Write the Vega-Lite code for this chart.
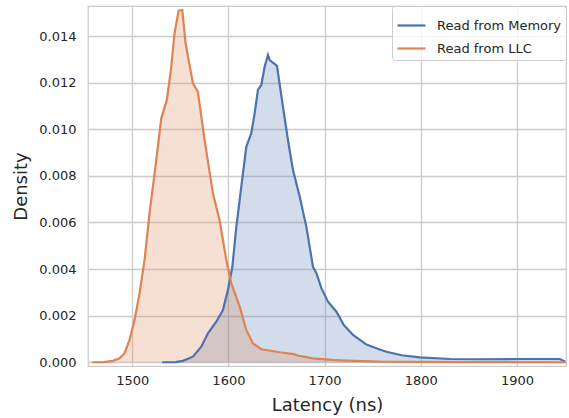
{
  "$schema": "https://vega.github.io/schema/vega-lite/v6.json",
  "width": 478,
  "height": 360,
  "autosize": {"type": "none"},
  "padding": {"left": 88, "top": 6, "right": 3, "bottom": 52},
  "background": "white",
  "config": {
    "font": "DejaVu Sans",
    "view": {"stroke": "#cccccc", "strokeWidth": 1.25},
    "axis": {
      "domain": false,
      "ticks": false,
      "gridColor": "#cccccc",
      "gridWidth": 1.3,
      "labelColor": "#262626",
      "labelFont": "DejaVu Sans",
      "labelFontSize": 13,
      "titleColor": "#262626",
      "titleFont": "DejaVu Sans",
      "titleFontSize": 18,
      "titleFontWeight": "normal"
    },
    "legend": {
      "labelFont": "DejaVu Sans",
      "labelFontSize": 13,
      "labelColor": "#262626"
    }
  },
  "data": {
    "values": [
      {"series": "Read from Memory", "latency": 1531.2, "density": 0},
      {"series": "Read from Memory", "latency": 1545, "density": 0.00001},
      {"series": "Read from Memory", "latency": 1552.7, "density": 0.00006},
      {"series": "Read from Memory", "latency": 1563.1, "density": 0.00024},
      {"series": "Read from Memory", "latency": 1571.8, "density": 0.00067},
      {"series": "Read from Memory", "latency": 1578.7, "density": 0.00124},
      {"series": "Read from Memory", "latency": 1587.4, "density": 0.00174},
      {"series": "Read from Memory", "latency": 1594.3, "density": 0.00224},
      {"series": "Read from Memory", "latency": 1599.5, "density": 0.0031},
      {"series": "Read from Memory", "latency": 1604.1, "density": 0.0041},
      {"series": "Read from Memory", "latency": 1608.2, "density": 0.0058},
      {"series": "Read from Memory", "latency": 1613.4, "density": 0.00754},
      {"series": "Read from Memory", "latency": 1618.6, "density": 0.00925},
      {"series": "Read from Memory", "latency": 1623.8, "density": 0.00983},
      {"series": "Read from Memory", "latency": 1627.3, "density": 0.01069},
      {"series": "Read from Memory", "latency": 1630.7, "density": 0.01169},
      {"series": "Read from Memory", "latency": 1634.2, "density": 0.0119},
      {"series": "Read from Memory", "latency": 1637.7, "density": 0.01269},
      {"series": "Read from Memory", "latency": 1641.1, "density": 0.01319},
      {"series": "Read from Memory", "latency": 1642.9, "density": 0.01297},
      {"series": "Read from Memory", "latency": 1650.5, "density": 0.01272},
      {"series": "Read from Memory", "latency": 1656.7, "density": 0.01097},
      {"series": "Read from Memory", "latency": 1661.9, "density": 0.00954},
      {"series": "Read from Memory", "latency": 1667.1, "density": 0.00825},
      {"series": "Read from Memory", "latency": 1674.1, "density": 0.00711},
      {"series": "Read from Memory", "latency": 1681.1, "density": 0.0058},
      {"series": "Read from Memory", "latency": 1687.9, "density": 0.0041},
      {"series": "Read from Memory", "latency": 1691.5, "density": 0.00382},
      {"series": "Read from Memory", "latency": 1696.7, "density": 0.00318},
      {"series": "Read from Memory", "latency": 1703.5, "density": 0.0026},
      {"series": "Read from Memory", "latency": 1712.3, "density": 0.00217},
      {"series": "Read from Memory", "latency": 1720, "density": 0.0016},
      {"series": "Read from Memory", "latency": 1729.6, "density": 0.00117},
      {"series": "Read from Memory", "latency": 1743.5, "density": 0.00076},
      {"series": "Read from Memory", "latency": 1757.3, "density": 0.00055},
      {"series": "Read from Memory", "latency": 1764.3, "density": 0.00045},
      {"series": "Read from Memory", "latency": 1780, "density": 0.0003},
      {"series": "Read from Memory", "latency": 1799, "density": 0.00021},
      {"series": "Read from Memory", "latency": 1830.2, "density": 0.00014},
      {"series": "Read from Memory", "latency": 1864.8, "density": 0.00013},
      {"series": "Read from Memory", "latency": 1899.6, "density": 0.00014},
      {"series": "Read from Memory", "latency": 1944.6, "density": 0.00014},
      {"series": "Read from Memory", "latency": 1950, "density": 0.00003},
      {"series": "Read from LLC", "latency": 1458.4, "density": 0},
      {"series": "Read from LLC", "latency": 1470, "density": 0.00001},
      {"series": "Read from LLC", "latency": 1479.8, "density": 0.00006},
      {"series": "Read from LLC", "latency": 1486.8, "density": 0.00017},
      {"series": "Read from LLC", "latency": 1492, "density": 0.00039},
      {"series": "Read from LLC", "latency": 1497.2, "density": 0.00096},
      {"series": "Read from LLC", "latency": 1502.4, "density": 0.00182},
      {"series": "Read from LLC", "latency": 1507.6, "density": 0.00295},
      {"series": "Read from LLC", "latency": 1512.8, "density": 0.00439},
      {"series": "Read from LLC", "latency": 1518, "density": 0.0064},
      {"series": "Read from LLC", "latency": 1525, "density": 0.00868},
      {"series": "Read from LLC", "latency": 1530.2, "density": 0.01047},
      {"series": "Read from LLC", "latency": 1536, "density": 0.01126},
      {"series": "Read from LLC", "latency": 1540.6, "density": 0.01269},
      {"series": "Read from LLC", "latency": 1544, "density": 0.01412},
      {"series": "Read from LLC", "latency": 1548.2, "density": 0.01509},
      {"series": "Read from LLC", "latency": 1552, "density": 0.01512},
      {"series": "Read from LLC", "latency": 1555.5, "density": 0.01368},
      {"series": "Read from LLC", "latency": 1563.1, "density": 0.01197},
      {"series": "Read from LLC", "latency": 1568.3, "density": 0.01161},
      {"series": "Read from LLC", "latency": 1575.2, "density": 0.00954},
      {"series": "Read from LLC", "latency": 1583.9, "density": 0.00725},
      {"series": "Read from LLC", "latency": 1590.8, "density": 0.0061},
      {"series": "Read from LLC", "latency": 1597.8, "density": 0.00439},
      {"series": "Read from LLC", "latency": 1603, "density": 0.00339},
      {"series": "Read from LLC", "latency": 1611.7, "density": 0.00239},
      {"series": "Read from LLC", "latency": 1618.6, "density": 0.00139},
      {"series": "Read from LLC", "latency": 1625.5, "density": 0.00081},
      {"series": "Read from LLC", "latency": 1634.2, "density": 0.00056},
      {"series": "Read from LLC", "latency": 1653.3, "density": 0.00043},
      {"series": "Read from LLC", "latency": 1668, "density": 0.00035},
      {"series": "Read from LLC", "latency": 1672, "density": 0.00029},
      {"series": "Read from LLC", "latency": 1687.6, "density": 0.00017},
      {"series": "Read from LLC", "latency": 1708, "density": 0.0001},
      {"series": "Read from LLC", "latency": 1722.7, "density": 0.00007},
      {"series": "Read from LLC", "latency": 1757, "density": 0.00003},
      {"series": "Read from LLC", "latency": 1850, "density": 0.00001},
      {"series": "Read from LLC", "latency": 1951, "density": 0}
    ]
  },
  "encoding": {
    "x": {
      "field": "latency",
      "type": "quantitative",
      "scale": {"domain": [1454, 1951], "nice": false, "zero": false},
      "axis": {"title": "Latency (ns)", "values": [1500, 1600, 1700, 1800, 1900], "format": "d", "labelPadding": 8, "titlePadding": 9}
    },
    "y": {
      "field": "density",
      "type": "quantitative",
      "stack": null,
      "scale": {"domain": [-0.00016, 0.01529], "nice": false, "zero": false},
      "axis": {"title": "Density", "values": [0, 0.002, 0.004, 0.006, 0.008, 0.01, 0.012, 0.014], "format": ".3f", "labelPadding": 12, "titlePadding": 8}
    },
    "color": {
      "field": "series",
      "type": "nominal",
      "scale": {"domain": ["Read from Memory", "Read from LLC"], "range": ["#4C72B0", "#DD8452"]},
      "legend": {
        "title": null,
        "orient": "none",
        "legendX": 304,
        "legendY": 0,
        "symbolType": "stroke",
        "symbolSize": 784,
        "symbolStrokeWidth": 2.2,
        "symbolOpacity": 1,
        "padding": 4,
        "rowPadding": -9,
        "labelOffset": 10,
        "fillColor": "rgba(255,255,255,0.8)",
        "strokeColor": "#cccccc",
        "cornerRadius": 3
      }
    }
  },
  "layer": [
    {
      "mark": {"type": "area", "opacity": 0.25, "clip": true}
    },
    {
      "mark": {"type": "line", "strokeWidth": 2.2, "clip": true},
      "encoding": {
        "order": {"field": "latency", "type": "quantitative"}
      }
    }
  ]
}
